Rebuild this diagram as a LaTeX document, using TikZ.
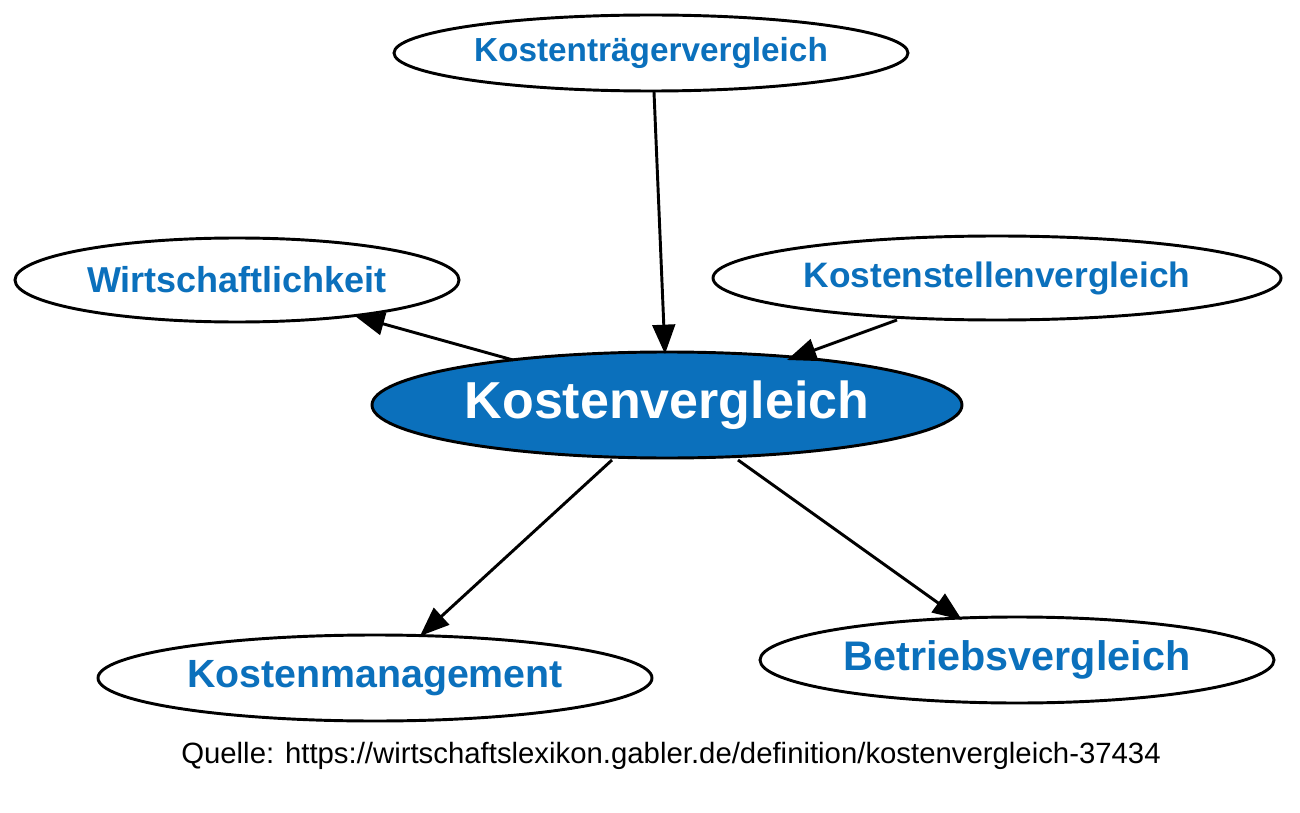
\documentclass[tikz,border=0pt]{standalone}
\usepackage{fontspec}
\setmainfont{Liberation Sans}
\usetikzlibrary{shapes.geometric,arrows.meta}
\definecolor{gblue}{HTML}{0B70BC}
\begin{document}
\begin{tikzpicture}[x=0.75pt,y=-0.75pt,
  ell/.style={ellipse,draw=black,line width=2.2pt,inner sep=0pt,fill=white,text=gblue,font=\bfseries},
  conn/.style={line width=2.2pt,-{Triangle[length=22pt,width=17pt]}}]
\useasboundingbox (0,0) rectangle (1300,813);
\node[ell,minimum width=514\pgflinewidth/\pgflinewidth*0.75pt,minimum height=76*0.75pt,font=\bfseries\fontsize{25}{30}\selectfont] (kt) at (651,53) {Kostenträgervergleich};
\node[ell,minimum width=444*0.75pt,minimum height=84*0.75pt,font=\bfseries\fontsize{27}{32}\selectfont] (wi) at (237,280) {Wirtschaftlichkeit};
\node[ell,minimum width=568*0.75pt,minimum height=84*0.75pt,font=\bfseries\fontsize{26.5}{32}\selectfont] (ks) at (997,278) {Kostenstellenvergleich};
\node[ell,fill=gblue,text=white,minimum width=590*0.75pt,minimum height=106*0.75pt,font=\bfseries\fontsize{39}{46}\selectfont] (kv) at (667,405) {Kostenvergleich};
\node[ell,minimum width=554*0.75pt,minimum height=86*0.75pt,font=\bfseries\fontsize{29.5}{35}\selectfont] (km) at (375,678) {Kostenmanagement};
\node[ell,minimum width=514*0.75pt,minimum height=86*0.75pt,font=\bfseries\fontsize{31}{37}\selectfont] (bv) at (1017,660) {Betriebsvergleich};
\coordinate (a1) at (654,92); \coordinate (b1) at (665,354);
\coordinate (a2) at (513,360); \coordinate (b2) at (355,316);
\coordinate (a3) at (897,320); \coordinate (b3) at (787,360);
\coordinate (a4) at (612,460); \coordinate (b4) at (420,636);
\coordinate (a5) at (738,460); \coordinate (b5) at (962,620);
\draw[conn] (a1) -- (b1);
\draw[conn] (a2) -- (b2);
\draw[conn] (a3) -- (b3);
\draw[conn] (a4) -- (b4);
\draw[conn] (a5) -- (b5);
\node[font=\fontsize{22}{26}\selectfont] (q) at (671,756) {Quelle: https://wirtschaftslexikon.gabler.de/definition/kostenvergleich-37434};
\end{tikzpicture}
\end{document}
